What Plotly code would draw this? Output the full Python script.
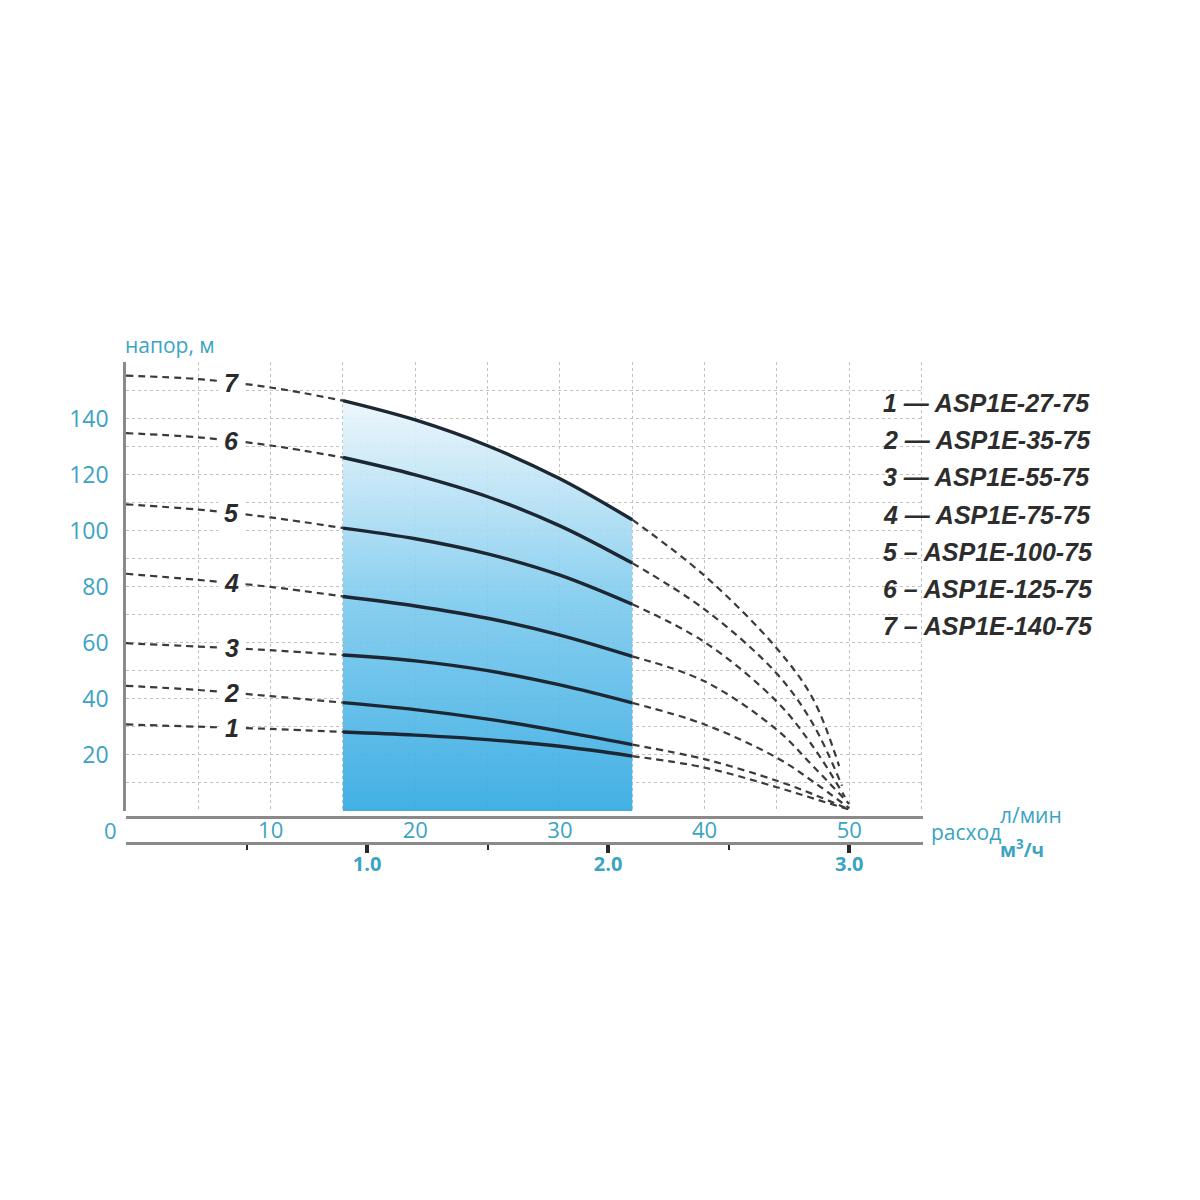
import numpy as np
import plotly.graph_objects as go

# flow, l/min
flow = [0, 5, 10, 15, 20, 25, 30, 35, 40, 45, 47.5]

# head, m  (curves 1..7)
head_1 = [30.9, 30.1, 29.3, 28.2, 27.1, 25.5, 23.1, 19.6, 15.5, 8.5, 4.5]
head_2 = [44.7, 43.2, 41.0, 38.7, 36.2, 32.8, 28.5, 23.7, 18.5, 10.8, 6.0]
head_3 = [59.9, 58.7, 57.4, 55.7, 53.6, 50.1, 45.0, 38.6, 30.9, 19.0, 10.5]
head_4 = [84.7, 82.5, 80.0, 76.6, 73.2, 68.8, 62.8, 55.2, 46.3, 29.0, 16.0]
head_5 = [109.5, 107.6, 104.8, 101.0, 97.2, 91.8, 84.2, 73.8, 60.3, 39.0, 23.0]
head_6 = [134.9, 133.4, 130.5, 126.2, 120.0, 112.2, 101.8, 88.5, 72.0, 49.0, 31.0]
head_7 = [155.4, 154.2, 151.2, 146.5, 139.6, 130.4, 118.6, 104.0, 84.0, 58.0, 40.0]

# where each curve runs out (flow, head)
end_flow = [50.0, 50.0, 50.0, 50.0, 49.7, 49.5, 49.3]
end_head = [0.5, 0.5, 1.0, 2.5, 5.0, 9.0, 16.0]

curves = [head_1, head_2, head_3, head_4, head_5, head_6, head_7]
curve_names = ["1", "2", "3", "4", "5", "6", "7"]
models = ["1 — ASP1E-27-75", "2 — ASP1E-35-75", "3 — ASP1E-55-75",
          "4 — ASP1E-75-75", "5 – ASP1E-100-75", "6 – ASP1E-125-75",
          "7 – ASP1E-140-75"]

# working range, l/min
work_lo, work_hi = 15, 35

y_ticks = [20, 40, 60, 80, 100, 120, 140]
x_ticks = [10, 20, 30, 40, 50]
m3_ticks = [1.0, 2.0, 3.0]
m3_minor = [0.5, 1.5, 2.5]
LPM_TO_M3H = 0.06

teal = "#3ba3c4"
dark = "#1c2733"
dash_col = "#3a3a3a"
grey_axis = "#8a8a8a"
grid = "#c2c2c2"

# page geometry (pixels); the page body adds an 8px offset
OFF = 8
W = H = 1200
ML, MR, MT, MB = 118, 285, 354, 328
ph = H - MT - MB
pw = W - ML - MR


def px(x):
    return (x - OFF - ML) / pw


def py(y):
    return (H - MB - (y - OFF)) / ph


fig = go.Figure()

# blue gradient under the top curve in the working range
f = np.array(flow)
mask = (f >= work_lo) & (f <= work_hi)
fig.add_trace(go.Scatter(
    x=f[mask], y=np.array(head_7)[mask], mode="lines",
    line=dict(width=0, shape="spline"), fill="tozeroy",
    fillgradient=dict(type="vertical", start=0, stop=148,
                      colorscale=[[0, "rgba(52,170,226,0.93)"],
                                  [0.5, "rgba(122,201,237,0.9)"],
                                  [1, "rgba(238,247,252,0.9)"]]),
    hoverinfo="skip", showlegend=False))

for i, h in enumerate(curves):
    xs = np.array(list(flow) + [end_flow[i]])
    ys = np.array(list(h) + [end_head[i]])
    left = xs <= work_lo
    mid = (xs >= work_lo) & (xs <= work_hi)
    right = xs >= work_hi
    for seg in (left, right):
        fig.add_trace(go.Scatter(x=xs[seg], y=ys[seg], mode="lines",
                                 line=dict(color=dash_col, width=2.2, dash="7px,5px", shape="spline"),
                                 hoverinfo="skip", showlegend=False))
    fig.add_trace(go.Scatter(x=xs[mid], y=ys[mid], mode="lines",
                             line=dict(color=dark, width=3.4, shape="spline"),
                             hoverinfo="skip", showlegend=False))
    # curve number sitting in a gap of the dashed line
    lx = 7.3
    fig.add_annotation(x=lx, y=float(np.interp(lx, xs, ys)), text="<i><b>%s</b></i>" % curve_names[i],
                       showarrow=False, bgcolor="white", borderpad=5,
                       font=dict(family="Liberation Sans", size=25, color="#2a2a2a"))

# invisible helper so the m3/h axis is drawn
fig.add_trace(go.Scatter(x=f * LPM_TO_M3H, y=head_1, xaxis="x2", mode="none",
                         hoverinfo="skip", showlegend=False))

# legend text on the right
for i, m in enumerate(models):
    fig.add_annotation(xref="paper", yref="paper", x=px(881), y=py(403 + i * 37.2),
                       xanchor="left", yanchor="middle", showarrow=False,
                       text="<i><b>%s</b></i>" % m,
                       font=dict(family="Liberation Sans", size=25, color="#2d2d2d"))

# axis captions
fig.add_annotation(xref="paper", yref="paper", x=px(123), y=py(345), xanchor="left",
                   yanchor="middle", showarrow=False, text="напор, м",
                   font=dict(family="Open Sans", size=21, color=teal))
fig.add_annotation(xref="paper", yref="paper", x=px(119), y=py(830), xanchor="right",
                   yanchor="middle", showarrow=False, text="0",
                   font=dict(family="Open Sans", size=22, color=teal))
fig.add_annotation(xref="paper", yref="paper", x=px(929), y=py(832), xanchor="left",
                   yanchor="middle", showarrow=False, text="расход",
                   font=dict(family="Open Sans", size=21, color=teal))
fig.add_annotation(xref="paper", yref="paper", x=px(998), y=py(815), xanchor="left",
                   yanchor="middle", showarrow=False, text="л/мин",
                   font=dict(family="Open Sans", size=21, color=teal))
fig.add_annotation(xref="paper", yref="paper", x=px(998), y=py(849), xanchor="left",
                   yanchor="middle", showarrow=False, text="<b>м<sup>3</sup>/ч</b>",
                   font=dict(family="Open Sans", size=19, color=teal))

fig.update_layout(
    width=W, height=H,
    margin=dict(l=ML, r=MR, t=MT, b=MB),
    paper_bgcolor="white", plot_bgcolor="white",
    xaxis=dict(range=[0, 55.1], domain=[0, 1], anchor="free", position=py(817),
               tickvals=x_ticks, ticks="", ticklabelstandoff=-7,
               showgrid=True, gridcolor=grid, griddash="dot",
               gridwidth=1.2, minor=dict(dtick=5, showgrid=True, gridcolor=grid,
                                         griddash="dot", gridwidth=1.2),
               showline=True, linecolor=grey_axis, linewidth=2.5, zeroline=False,
               tickfont=dict(family="Open Sans", size=22, color=teal)),
    xaxis2=dict(range=[0, 55.1 * LPM_TO_M3H], overlaying="x", anchor="free",
                position=py(843), tickvals=m3_ticks,
                ticktext=["<b>%.1f</b>" % v for v in m3_ticks],
                ticks="outside", ticklen=8, tickwidth=3.5, tickcolor="#2a2a2a",
                ticklabelstandoff=-6,
                minor=dict(tickvals=m3_minor, ticks="outside", ticklen=5,
                           tickwidth=1.8, tickcolor="#2a2a2a"),
                showgrid=False, showline=True, linecolor=grey_axis, linewidth=2.5,
                zeroline=False, tickfont=dict(family="Open Sans", size=20, color=teal)),
    yaxis=dict(range=[0, 160.3], domain=[py(811), 1], tickvals=y_ticks, ticks="",
               ticklabelstandoff=10, showgrid=True, gridcolor=grid, griddash="dot",
               gridwidth=1.2, minor=dict(dtick=10, showgrid=True, gridcolor=grid,
                                         griddash="dot", gridwidth=1.2),
               showline=True, linecolor=grey_axis, linewidth=2.5, zeroline=False,
               tickfont=dict(family="Open Sans", size=23, color=teal)),
)

fig.write_html("out.html")
